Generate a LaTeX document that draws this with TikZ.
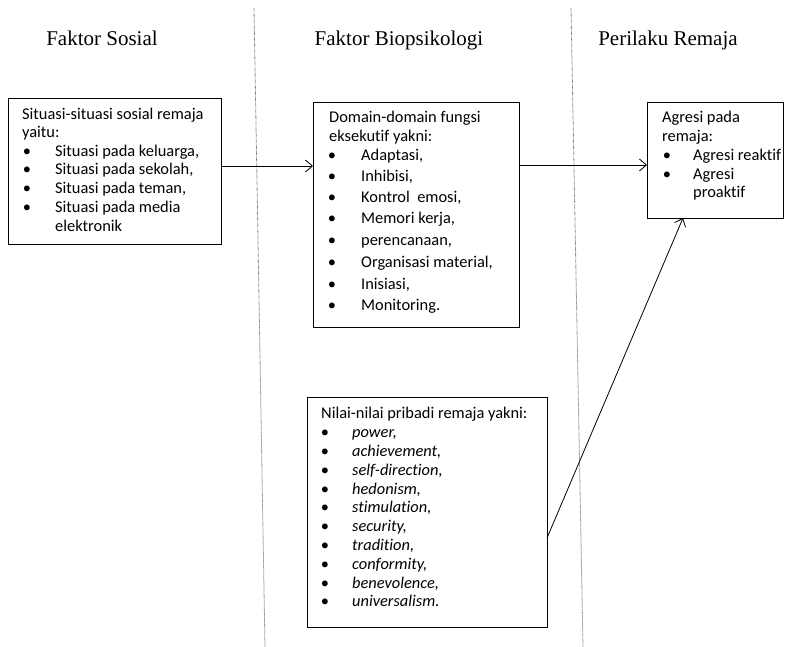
\documentclass[tikz,border=0pt]{standalone}
\usepackage{fontspec}
\setmainfont{Carlito}[Ligatures=NoCommon]
\newfontfamily\headfont{Liberation Serif}
\usetikzlibrary{arrows.meta}
\tikzset{
  box/.style={draw, line width=0.8pt, inner sep=0pt, outer sep=0pt},
  txt/.style={anchor=base west, inner sep=0pt, yshift=-5pt, font=\fontsize{16.4}{19}\selectfont},
  itxt/.style={txt, font=\fontsize{16.4}{19}\selectfont\itshape},
  bul/.style={anchor=base, inner sep=0pt, yshift=-5pt, font=\fontsize{16.4}{19}\selectfont},
  head/.style={inner sep=0pt, anchor=base, font=\fontsize{21}{24}\selectfont\headfont},
  sep/.style={draw=black!55, dash pattern=on 0.6pt off 0.6pt, line width=0.8pt},
  arr/.style={-{Straight Barb[length=7pt,width=12pt]}, line width=0.8pt}
}
\begin{document}
\begin{tikzpicture}[x=1pt, y=-1pt]
\useasboundingbox (0,0) rectangle (790,647);
% separators
\coordinate (s1a) at (254,8); \coordinate (s1b) at (265,647);
\coordinate (s2a) at (571,8); \coordinate (s2b) at (583,647);
\draw[sep] (s1a) -- (s1b);
\draw[sep] (s2a) -- (s2b);
% headings
\node[head] (h1) at (102,46) {Faktor Sosial};
\node[head] (h2) at (399,46) {Faktor Biopsikologi};
\node[head] (h3) at (668,46) {Perilaku Remaja};
% boxes
\node[box, minimum width=213pt, minimum height=146pt] (soc) at (114.5,171) {};
\node[box, minimum width=206pt, minimum height=225pt] (bio) at (416,214.5) {};
\node[box, minimum width=240pt, minimum height=230pt] (nil) at (427,512) {};
\node[box, minimum width=136pt, minimum height=116pt] (agr) at (715,160) {};
% social text
\node[txt] (s0) at (22,115) {Situasi-situasi sosial remaja};
\node[txt] (s1) at (22,133) {yaitu:};
\foreach \y/\t [count=\i] in {152/{Situasi pada keluarga,}, 170/{Situasi pada sekolah,}, 189/{Situasi pada teman,}, 208/{Situasi pada media}}{
  \node[bul] (sb\i) at (27,\y) {\textbullet};
  \node[txt] (si\i) at (55,\y) {\t};
}
\node[txt] (s5) at (55,227) {elektronik};
% bio text
\node[txt] (b0) at (329,118) {Domain-domain fungsi};
\node[txt] (b1) at (329,137) {eksekutif yakni:};
\foreach \y/\t [count=\i] in {156/{Adaptasi,}, 177/{Inhibisi,}, 198/{Kontrol\ \ emosi,}, 219/{Memori kerja,}, 241/{perencanaan,}, 262/{Organisasi material,}, 284/{Inisiasi,}, 305/{Monitoring.}}{
  \node[bul] (bb\i) at (332,\y) {\textbullet};
  \node[txt] (bi\i) at (361,\y) {\t};
}
% nilai text
\node[txt] (n0) at (321,413) {Nilai-nilai pribadi remaja yakni:};
\foreach \y/\t [count=\i] in {432/{power,}, 451/{achievement,}, 470/{self-direction,}, 489/{hedonism,}, 507/{stimulation,}, 526/{security,}, 545/{tradition,}, 564/{conformity,}, 583/{benevolence,}, 601/{universalism.}}{
  \node[bul] (nb\i) at (325,\y) {\textbullet};
  \node[itxt] (ni\i) at (352,\y) {\t};
}
% agresi text
\node[txt] (a0) at (662,118) {Agresi pada};
\node[txt] (a1) at (662,137) {remaja:};
\node[bul] (ab1) at (667,156) {\textbullet};
\node[txt] (ai1) at (693,156) {Agresi reaktif};
\node[bul] (ab2) at (667,175) {\textbullet};
\node[txt] (ai2) at (693,175) {Agresi};
\node[txt] (ai3) at (693,193) {proaktif};
% connectors
\draw[arr] (soc.east |- 0,166) -- (bio.west |- 0,166);
\draw[arr] (bio.east |- 0,165) -- (agr.west |- 0,165);
\draw[arr] (nil.east |- 0,538) -- (agr.south -| 683,0);
\end{tikzpicture}
\end{document}
